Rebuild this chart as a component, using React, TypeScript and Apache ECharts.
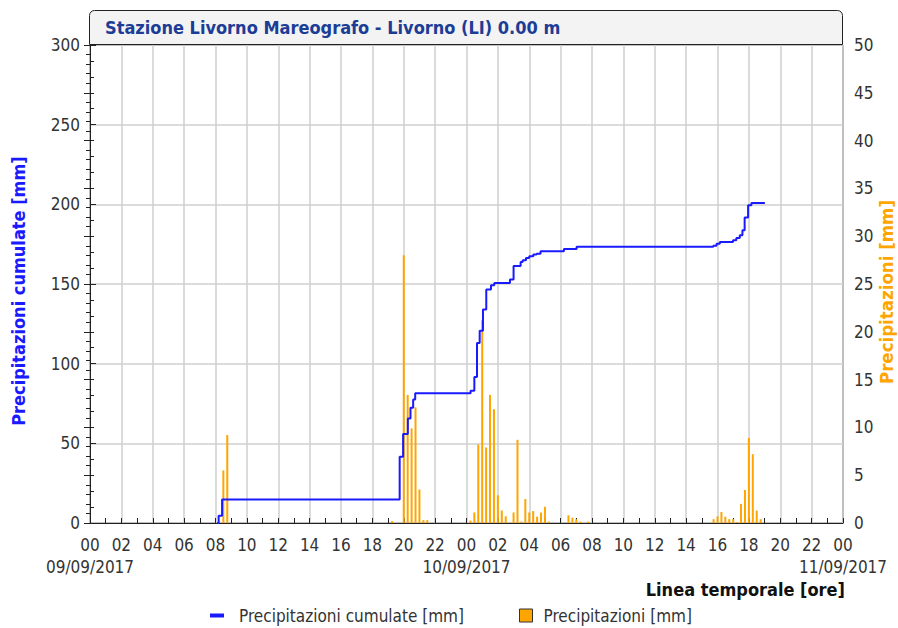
import React, { useEffect, useRef } from "react";
import * as echarts from "echarts";

// Time axis: hours since 09/09/2017 00:00
const dateLabels = ["09/09/2017", "10/09/2017", "11/09/2017"];

// Precipitazioni (15-min) [mm]
const barHours = [
  8.5, 8.75, 19.25, 20.0, 20.25, 20.5, 20.75, 21.0, 21.25, 21.5,
  24.25, 24.5, 24.75, 25.0, 25.25, 25.5, 25.75, 26.0, 26.25, 26.5,
  27.0, 27.25, 27.5, 27.75, 28.0, 28.25, 28.5, 28.75, 29.0, 29.25,
  30.5, 30.75, 31.0, 31.25, 31.75,
  39.75, 40.0, 40.25, 40.5, 40.75, 41.0, 41.25, 41.5, 41.75, 42.0, 42.25, 42.5, 42.75,
];
const barValues = [
  5.5, 9.2, 0.2, 28.0, 13.4, 9.9, 12.1, 3.5, 0.3, 0.3,
  0.25, 1.1, 8.2, 21.2, 7.9, 13.4, 11.9, 2.9, 1.3, 0.7,
  1.1, 8.7, 0.15, 2.5, 1.1, 1.25, 0.66, 1.1, 1.7, 0.15,
  0.8, 0.55, 0.4, 0.15, 0.15,
  0.4, 0.7, 1.15, 0.66, 0.4, 0.4, 0.1, 2.0, 3.45, 8.9, 7.2, 1.3, 0.4,
];

// Precipitazioni cumulate [mm] (step changes)
const cumHours = [
  8.1, 8.2, 8.42, 19.74, 19.96, 20.26, 20.43, 20.6, 20.73,
  24.26, 24.5, 24.67, 24.84, 25.05, 25.26, 25.56, 25.77, 26.77, 27.0,
  27.45, 27.58, 27.79, 28.0, 28.26, 28.47, 28.72, 30.21, 31.02,
  39.73, 39.94, 40.15, 40.99, 41.2, 41.42, 41.59, 41.73, 41.95, 42.16, 43.02,
];
const cumValues = [
  0, 4.5, 14.7, 41.6, 55.8, 65.6, 72.4, 77.5, 81.5,
  83.0, 91.7, 113.0, 120.6, 134.0, 146.5, 149.2, 150.7, 152.8, 161.3,
  163.8, 164.9, 166.3, 167.4, 168.5, 169.0, 170.5, 172.0, 173.4,
  174.0, 175.3, 176.4, 177.4, 178.9, 180.6, 183.7, 191.7, 199.4, 200.8, 200.8,
];

const SERIES_CUM = "Precipitazioni cumulate [mm]";
const SERIES_BAR = "Precipitazioni [mm]";
const TITLE = "Stazione Livorno Mareografo - Livorno (LI) 0.00 m";
const X_NAME = "Linea temporale [ore]";

const FONT = "'DejaVu Sans Condensed', 'Liberation Sans Narrow', 'DejaVu Sans', sans-serif";

export default function App() {
  const ref = useRef<HTMLDivElement>(null);

  useEffect(() => {
    if (!ref.current) return;
    const chart = echarts.init(ref.current, null, { renderer: "svg" });

    const barData = barHours.map((h, i) => [h, barValues[i]]);
    const cumData = cumHours.map((h, i) => [h, cumValues[i]]);

    const labelStyle = { fontFamily: FONT, fontSize: 17, color: "#333" };

    chart.setOption({
      animation: false,
      backgroundColor: "#ffffff",
      textStyle: { fontFamily: FONT },
      grid: {
        left: 90,
        right: 55,
        top: 45,
        bottom: 105,
        show: true,
        borderColor: "#222",
        borderWidth: 1,
        backgroundColor: "#ffffff",
        containLabel: false,
        outerBoundsMode: "none",
      },
      graphic: [
        {
          type: "rect",
          shape: { x: 89.5, y: 10.5, width: 753, height: 34, r: [5, 5, 0, 0] },
          style: { fill: "#f3f3f3", stroke: "#222", lineWidth: 1 },
          z: 10,
        },
        {
          type: "text",
          x: 105,
          y: 27,
          style: {
            text: TITLE,
            fontFamily: FONT,
            fontSize: 18,
            fontWeight: "bold",
            fill: "#1c3c96",
            verticalAlign: "middle",
          },
          z: 11,
        },
        {
          type: "text",
          x: 845,
          y: 589,
          style: {
            text: X_NAME,
            fontFamily: FONT,
            fontSize: 18,
            fontWeight: "bold",
            fill: "#111",
            align: "right",
            verticalAlign: "middle",
          },
        },
        {
          type: "text",
          x: 886,
          y: 292,
          rotation: Math.PI / 2,
          style: {
            text: SERIES_BAR,
            fontFamily: FONT,
            fontSize: 18.5,
            fontWeight: "bold",
            fill: "#ffa500",
            align: "center",
            verticalAlign: "middle",
          },
        },
      ],
      legend: [
        {
          data: [{ name: SERIES_CUM, icon: "rect" }],
          left: 205,
          top: 602,
          itemWidth: 14,
          itemHeight: 4,
          textStyle: { ...labelStyle, fontSize: 17, padding: [0, 0, 0, 10] },
          selectedMode: false,
        },
        {
          data: [{ name: SERIES_BAR, icon: "rect" }],
          left: 514,
          top: 602,
          itemWidth: 13,
          itemHeight: 13,
          itemStyle: { borderColor: "#333", borderWidth: 1 },
          textStyle: { ...labelStyle, fontSize: 17, padding: [0, 0, 0, 6] },
          selectedMode: false,
        },
      ],
      xAxis: [
        {
          type: "value",
          min: 0,
          max: 48,
          interval: 2,
          axisLine: { show: true, lineStyle: { color: "#222", width: 1 } },
          axisTick: { show: true, inside: true, length: 5, lineStyle: { color: "#222" } },
          minorTick: { show: true, splitNumber: 2, length: 5, lineStyle: { color: "#222" } },
          splitLine: { show: true, lineStyle: { color: "#cfcfcf", width: 1.5 } },
          axisLabel: {
            ...labelStyle,
            margin: 13,
            showMinLabel: true,
            showMaxLabel: true,
            hideOverlap: false,
            formatter: (v: number) => {
              const h = Math.round(v) % 24;
              return h < 10 ? "0" + h : String(h);
            },
          },
        },
        {
          type: "value",
          min: 0,
          max: 48,
          interval: 24,
          position: "bottom",
          axisLine: { show: false },
          axisTick: { show: false },
          minorTick: { show: false },
          splitLine: { show: false },
          axisLabel: {
            ...labelStyle,
            margin: 35,
            showMinLabel: true,
            showMaxLabel: true,
            hideOverlap: false,
            formatter: (v: number) => dateLabels[Math.round(v / 24)] || "",
          },
        },
      ],
      yAxis: [
        {
          type: "value",
          min: 0,
          max: 300,
          interval: 50,
          position: "left",
          name: SERIES_CUM,
          nameLocation: "middle",
          nameRotate: 90,
          nameGap: 63,
          nameMoveOverlap: false,
          nameTextStyle: {
            fontFamily: FONT,
            fontSize: 18,
            fontWeight: "bold",
            color: "#1a1aff",
            padding: [0, 14, 0, 0],
          },
          axisLine: { show: true, lineStyle: { color: "#222", width: 1 } },
          axisTick: { show: true, inside: true, length: 6, lineStyle: { color: "#222" } },
          minorTick: { show: true, splitNumber: 5, length: 4, lineStyle: { color: "#222" } },
          splitLine: { show: true, lineStyle: { color: "#cfcfcf", width: 1.5 } },
          axisLabel: { ...labelStyle, margin: 10 },
        },
        {
          type: "value",
          min: 0,
          max: 50,
          interval: 5,
          position: "right",
          axisLine: { show: true, lineStyle: { color: "#222", width: 1 } },
          axisTick: { show: true, inside: true, length: 6, lineStyle: { color: "#222" } },
          minorTick: { show: true, splitNumber: 5, length: 4, lineStyle: { color: "#222" } },
          splitLine: { show: false },
          axisLabel: { ...labelStyle, margin: 11 },
        },
      ],
      series: [
        {
          name: SERIES_BAR,
          type: "bar",
          xAxisIndex: 0,
          yAxisIndex: 1,
          data: barData,
          barWidth: 2,
          itemStyle: { color: "#ffa500", borderColor: "#333", borderWidth: 0 },
          z: 2,
        },
        {
          name: SERIES_CUM,
          type: "line",
          xAxisIndex: 0,
          yAxisIndex: 0,
          data: cumData,
          step: "end",
          showSymbol: false,
          symbol: "none",
          lineStyle: { color: "#1a1aff", width: 2 },
          itemStyle: { color: "#1a1aff" },
          z: 3,
        },
      ],
    });

    return () => chart.dispose();
  }, []);

  return (
    <div
      ref={ref}
      style={{ position: "fixed", left: 0, top: 0, width: 898, height: 628, background: "#fff" }}
    />
  );
}
